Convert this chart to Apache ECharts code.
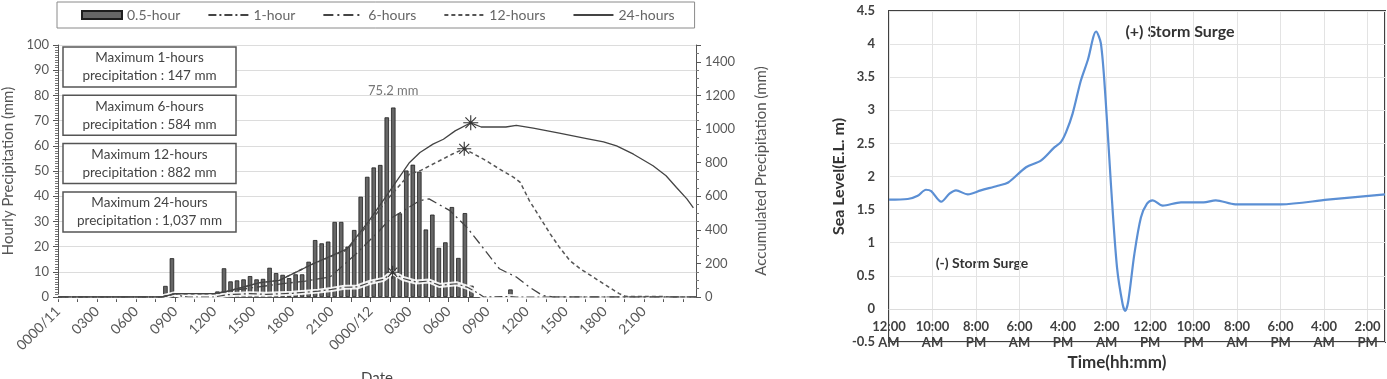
<!DOCTYPE html>
<html>
<head>
<meta charset="utf-8">
<script src="https://cdn.jsdelivr.net/npm/echarts@6.0.0/dist/echarts.min.js"></script>
<style>
  html, body { margin: 0; padding: 0; background: #fff; }
  #chart { width: 1387px; height: 379px; }
</style>
</head>
<body>
<div id="chart"></div>
<script>
const FONT = 'Lato, "Open Sans", sans-serif';

// left panel: x tick labels every 3 hours
const dateLabels = ['0000/11', '0300', '0600', '0900', '1200', '1500', '1800', '2100',
  '0000/12', '0300', '0600', '0900', '1200', '1500', '1800', '2100'];

// 0.5-hour rainfall (mm), one value per half hour from 0000/11
const halfHourRain = [
  0, 0, 0, 0, 0, 0, 0, 0, 0, 0,
  0, 0, 0, 0, 0, 0, 4.4, 15.4, 0, 0,
  0, 0, 0, 0, 2.2, 11.4, 6.2, 6.6, 7.0, 8.3,
  7.0, 7.2, 11.6, 9.5, 8.8, 7.5, 9.0, 9.0, 14.0, 22.6,
  21.3, 22.0, 29.8, 29.8, 20.0, 26.6, 39.8, 47.7, 51.4, 52.4,
  71.3, 75.2, 33.2, 50.2, 52.5, 49.7, 26.8, 32.7, 19.5, 21.7,
  35.7, 15.5, 33.3, 4.5, 0, 0, 0, 0, 0, 3.0,
  0, 0, 0, 0, 0, 0, 0, 0, 0, 0,
  0, 0, 0, 0, 0, 0, 0, 0, 0, 0,
  0, 0, 0, 0, 0, 0, 0, 0
];

// accumulated precipitation lines (hours since 0000/11, mm)
const h1Time = [0, 8, 9, 9.5, 10, 12, 13, 14.7, 16, 18, 20, 21, 22, 23, 24, 25, 25.7, 26.5, 27.5, 28.5, 29.3, 30.6, 31.4, 32, 32.7, 34.5, 35.2, 49];
const h1Acc = [0, 0, 20, 5, 0, 0, 14, 20, 16, 22, 35, 45, 58, 60, 88, 105, 147, 110, 89, 95, 69, 79, 59, 35, 0, 3, 0, 0];

const h6Time = [0, 8, 9, 12, 13, 14, 17, 19, 20.9, 22.9, 24.7, 25.5, 27.8, 28.5, 30.1, 31.4, 32.4, 33.2, 33.9, 35.2, 36.2, 37.2, 38, 49];
const h6Acc = [0, 0, 20, 20, 34, 45, 77, 95, 119, 257, 396, 465, 574, 584, 514, 415, 317, 237, 168, 119, 59, 10, 0, 0];

const h12Time = [0, 8, 9, 12, 13, 15.5, 17, 19.6, 22.2, 23.9, 25.5, 27.0, 27.8, 29.3, 30.3, 31.2, 32.9, 33.9, 35.0, 35.5, 36.2, 37.0, 37.8, 38.5, 39.3, 40.1, 41.1, 42.1, 43.1, 43.6, 44, 46.5, 47, 49];
const h12Acc = [0, 0, 20, 20, 34, 85, 99, 198, 280, 440, 600, 732, 751, 811, 851, 882, 811, 762, 712, 682, 574, 475, 376, 297, 218, 168, 119, 69, 20, 4, 3, 3, 0, 0];

const h24Time = [0, 8, 9, 12, 13, 15.5, 17, 19.6, 22.2, 23.9, 25.5, 27.0, 27.8, 28.8, 29.6, 30.5, 31.7, 32.5, 34.4, 35.2, 36.5, 38.5, 40.6, 41.9, 42.9, 44.2, 45.7, 46.7, 47.5, 48.3, 48.8];
const h24Acc = [0, 0, 20, 20, 34, 85, 99, 198, 287, 455, 633, 801, 860, 910, 939, 989, 1037, 1012, 1012, 1022, 1005, 975, 943, 923, 900, 850, 781, 722, 652, 584, 530];

const maxWindows = ['1-hours', '6-hours', '12-hours', '24-hours'];
const maxTotals = ['147', '584', '882', '1,037'];

// right panel: sea level
const seaTicks = ['12:00\nAM', '10:00\nAM', '8:00\nPM', '6:00\nAM', '4:00\nPM', '2:00\nAM',
  '12:00\nPM', '10:00\nPM', '8:00\nAM', '6:00\nPM', '4:00\nAM', '2:00\nPM'];
const seaTime = [0, 0.43, 0.66, 0.85, 0.97, 1.2, 1.39, 1.54, 1.81, 2.11, 2.5, 2.74, 3.15, 3.49, 3.8, 3.95, 4.07, 4.22, 4.41, 4.57, 4.76, 4.87, 4.98, 5.1, 5.24, 5.37, 5.43, 5.5, 5.64, 5.79, 5.93, 6.06, 6.29, 6.71, 7.23, 7.51, 7.96, 8.55, 9.01, 10.08, 11.4];
const seaLevel = [1.65, 1.66, 1.71, 1.8, 1.78, 1.62, 1.74, 1.79, 1.73, 1.79, 1.86, 1.91, 2.14, 2.24, 2.44, 2.52, 2.67, 2.95, 3.45, 3.76, 4.19, 4.01, 3.15, 1.89, 0.63, 0.07, -0.03, 0.12, 0.83, 1.38, 1.59, 1.64, 1.56, 1.61, 1.61, 1.64, 1.58, 1.58, 1.58, 1.65, 1.73];

function pairs(xs, ys) {
  return xs.map((x, i) => [x, ys[i]]);
}

const rainData = halfHourRain.map((v, i) => [i * 0.5 + 0.25, v]).filter(d => d[1] > 0);

const star = 'path://M10,0L10,20M0,10L20,10M2.9,2.9L17.1,17.1M2.9,17.1L17.1,2.9';
function starMark(size) {
  return {
    symbol: star,
    symbolSize: size,
    data: [{ type: 'max', valueDim: 'y' }],
    label: { show: false },
    itemStyle: { color: 'transparent', borderColor: '#333', borderWidth: 1.1 }
  };
}

// legend entries: lines without the round marker
const lineKey = name => ({ name: name, itemStyle: { opacity: 0 } });

// boxes with the maximum totals
const boxes = [];
maxWindows.forEach((w, i) => {
  const top = 47 + i * 48.3;
  boxes.push({
    type: 'rect',
    shape: { x: 63, y: top, width: 173, height: 40 },
    style: { fill: '#fff', stroke: '#555', lineWidth: 1.5 },
    z: 10
  });
  boxes.push({
    type: 'text',
    x: 149.5,
    y: top + 20,
    style: {
      text: 'Maximum ' + w + '\nprecipitation : ' + maxTotals[i] + ' mm',
      align: 'center', verticalAlign: 'middle',
      fontSize: 13.5, fontFamily: FONT, fill: '#444', lineHeight: 18
    },
    z: 11
  });
});

const chart = echarts.init(document.getElementById('chart'));
chart.setOption({
  animation: false,
  backgroundColor: '#fff',
  textStyle: { fontFamily: FONT },
  legend: {
    data: [{ name: '0.5-hour', icon: 'rect' }, lineKey('1-hour'), lineKey('6-hours'), lineKey('12-hours'), lineKey('24-hours')],
    left: 57,
    top: 2,
    padding: [6, 20, 6, 24],
    itemGap: 27,
    itemWidth: 40,
    itemHeight: 8,
    borderColor: '#8a8a8a',
    borderWidth: 1,
    textStyle: { color: '#666', fontSize: 14, fontFamily: FONT }
  },
  grid: [
    { left: 58, top: 45, width: 638, height: 252, outerBoundsMode: 'none' },
    { left: 889, top: 11, width: 496, height: 331, show: true, borderColor: '#404040', borderWidth: 2, outerBoundsMode: 'none' }
  ],
  xAxis: [
    {
      type: 'value', gridIndex: 0, min: 0, max: 49, interval: 1.5,
      name: 'Date', nameLocation: 'middle', nameGap: 74,
      nameTextStyle: { color: '#444', fontSize: 15 },
      axisLine: { lineStyle: { color: '#555' } },
      axisTick: { show: true, length: 5, lineStyle: { color: '#555' } },
      splitLine: { show: false },
      axisLabel: {
        rotate: 45, color: '#595959', fontSize: 14, margin: 12, showMaxLabel: false,
        formatter: v => {
          const k = v / 3;
          return Number.isInteger(k) && k < dateLabels.length ? dateLabels[k] : '';
        }
      }
    },
    {
      // labels sit just under the zero level, as in the original
      type: 'value', gridIndex: 1, min: 0, max: 11.4, interval: 1, offset: -33,
      axisLine: { show: true, onZero: false, lineStyle: { color: '#dcdcdc' } },
      axisTick: { show: false },
      splitLine: { show: true, lineStyle: { color: '#e3e3e3' } },
      axisLabel: {
        color: '#404040', fontSize: 13, fontWeight: 'bold', lineHeight: 16, margin: 10,
        showMaxLabel: false,
        formatter: v => (Number.isInteger(v) && v < seaTicks.length ? seaTicks[v] : '')
      }
    }
  ],
  yAxis: [
    {
      type: 'value', gridIndex: 0, position: 'left', min: 0, max: 100, interval: 10,
      name: 'Hourly Precipitation (mm)', nameLocation: 'middle', nameGap: 42, nameRotate: 90,
      nameTextStyle: { color: '#555', fontSize: 15 },
      axisLine: { show: true, lineStyle: { color: '#555' } },
      axisTick: { show: true, length: 5, lineStyle: { color: '#555' } },
      minorTick: { show: true, splitNumber: 10, length: 3, lineStyle: { color: '#777' } },
      splitLine: { show: true, lineStyle: { color: '#dcdcdc' } },
      axisLabel: { color: '#595959', fontSize: 13, margin: 9 }
    },
    {
      type: 'value', gridIndex: 0, position: 'right', min: 0, max: 1500, interval: 200,
      name: 'Accumulated Precipitation (mm)', nameLocation: 'middle', nameGap: 58, nameRotate: 90,
      nameTextStyle: { color: '#555', fontSize: 15 },
      axisLine: { show: true, lineStyle: { color: '#555' } },
      axisTick: { show: true, length: 5, lineStyle: { color: '#555' } },
      minorTick: { show: true, splitNumber: 4, length: 3, lineStyle: { color: '#777' } },
      splitLine: { show: false },
      axisLabel: { color: '#595959', fontSize: 13, margin: 9, showMaxLabel: false, formatter: v => String(v) }
    },
    {
      type: 'value', gridIndex: 1, min: -0.5, max: 4.5, interval: 0.5,
      name: 'Sea Level(E.L. m)', nameLocation: 'middle', nameGap: 42, nameRotate: 90,
      nameTextStyle: { color: '#333', fontSize: 16, fontWeight: 'bold' },
      axisLine: { show: false },
      axisTick: { show: false },
      splitLine: { show: true, lineStyle: { color: '#e3e3e3' } },
      axisLabel: { color: '#404040', fontSize: 13, fontWeight: 'bold', margin: 14, formatter: v => String(v) }
    }
  ],
  series: [
    {
      name: '0.5-hour', type: 'bar', xAxisIndex: 0, yAxisIndex: 0,
      data: rainData, barWidth: 4.5,
      itemStyle: { color: '#666', borderColor: '#1e1e1e', borderWidth: 0.8 },
      markPoint: {
        symbol: 'circle', symbolSize: 1,
        itemStyle: { color: 'transparent' },
        data: [{ type: 'max', valueDim: 'y' }],
        label: { show: true, position: 'top', distance: 10, formatter: '{c} mm', color: '#777', fontSize: 13 }
      }
    },
    {
      name: 'halo', type: 'line', xAxisIndex: 0, yAxisIndex: 1,
      data: pairs(h1Time, h1Acc), symbol: 'none', silent: true,
      lineStyle: { color: 'rgba(255,255,255,0.9)', width: 5 }
    },
    {
      name: '1-hour', type: 'line', xAxisIndex: 0, yAxisIndex: 1,
      data: pairs(h1Time, h1Acc), symbol: 'none',
      itemStyle: { color: '#444' },
      lineStyle: { color: '#444', width: 1.2, type: [8, 3, 2, 3] },
      markPoint: starMark(13)
    },
    {
      name: '6-hours', type: 'line', xAxisIndex: 0, yAxisIndex: 1,
      data: pairs(h6Time, h6Acc), symbol: 'none',
      itemStyle: { color: '#444' },
      lineStyle: { color: '#444', width: 1.3, type: [10, 4, 2, 4] }
    },
    {
      name: '12-hours', type: 'line', xAxisIndex: 0, yAxisIndex: 1,
      data: pairs(h12Time, h12Acc), symbol: 'none',
      itemStyle: { color: '#555' },
      lineStyle: { color: '#555', width: 1.5, type: [4, 3] },
      markPoint: starMark(14)
    },
    {
      name: '24-hours', type: 'line', xAxisIndex: 0, yAxisIndex: 1,
      data: pairs(h24Time, h24Acc), symbol: 'none',
      itemStyle: { color: '#444' },
      lineStyle: { color: '#444', width: 1.3 },
      markPoint: starMark(15)
    },
    {
      name: 'Sea level', type: 'line', xAxisIndex: 1, yAxisIndex: 2,
      data: pairs(seaTime, seaLevel), symbol: 'none', smooth: 0.3,
      lineStyle: { color: '#5b8fd4', width: 2.2 }
    }
  ],
  graphic: boxes.concat([
    {
      type: 'text', x: 1117, y: 363,
      style: { text: 'Time(hh:mm)', align: 'center', verticalAlign: 'middle', fontSize: 17, fontWeight: 'bold', fontFamily: FONT, fill: '#333' }
    },
    {
      type: 'text', x: 1180, y: 32,
      style: { text: '(+) Storm Surge', align: 'center', verticalAlign: 'middle', fontSize: 16, fontWeight: 'bold', fontFamily: FONT, fill: '#333' }
    },
    {
      type: 'text', x: 982, y: 263,
      style: { text: '(-) Storm Surge', align: 'center', verticalAlign: 'middle', fontSize: 14, fontWeight: 'bold', fontFamily: FONT, fill: '#333' }
    }
  ])
});
</script>
</body>
</html>
